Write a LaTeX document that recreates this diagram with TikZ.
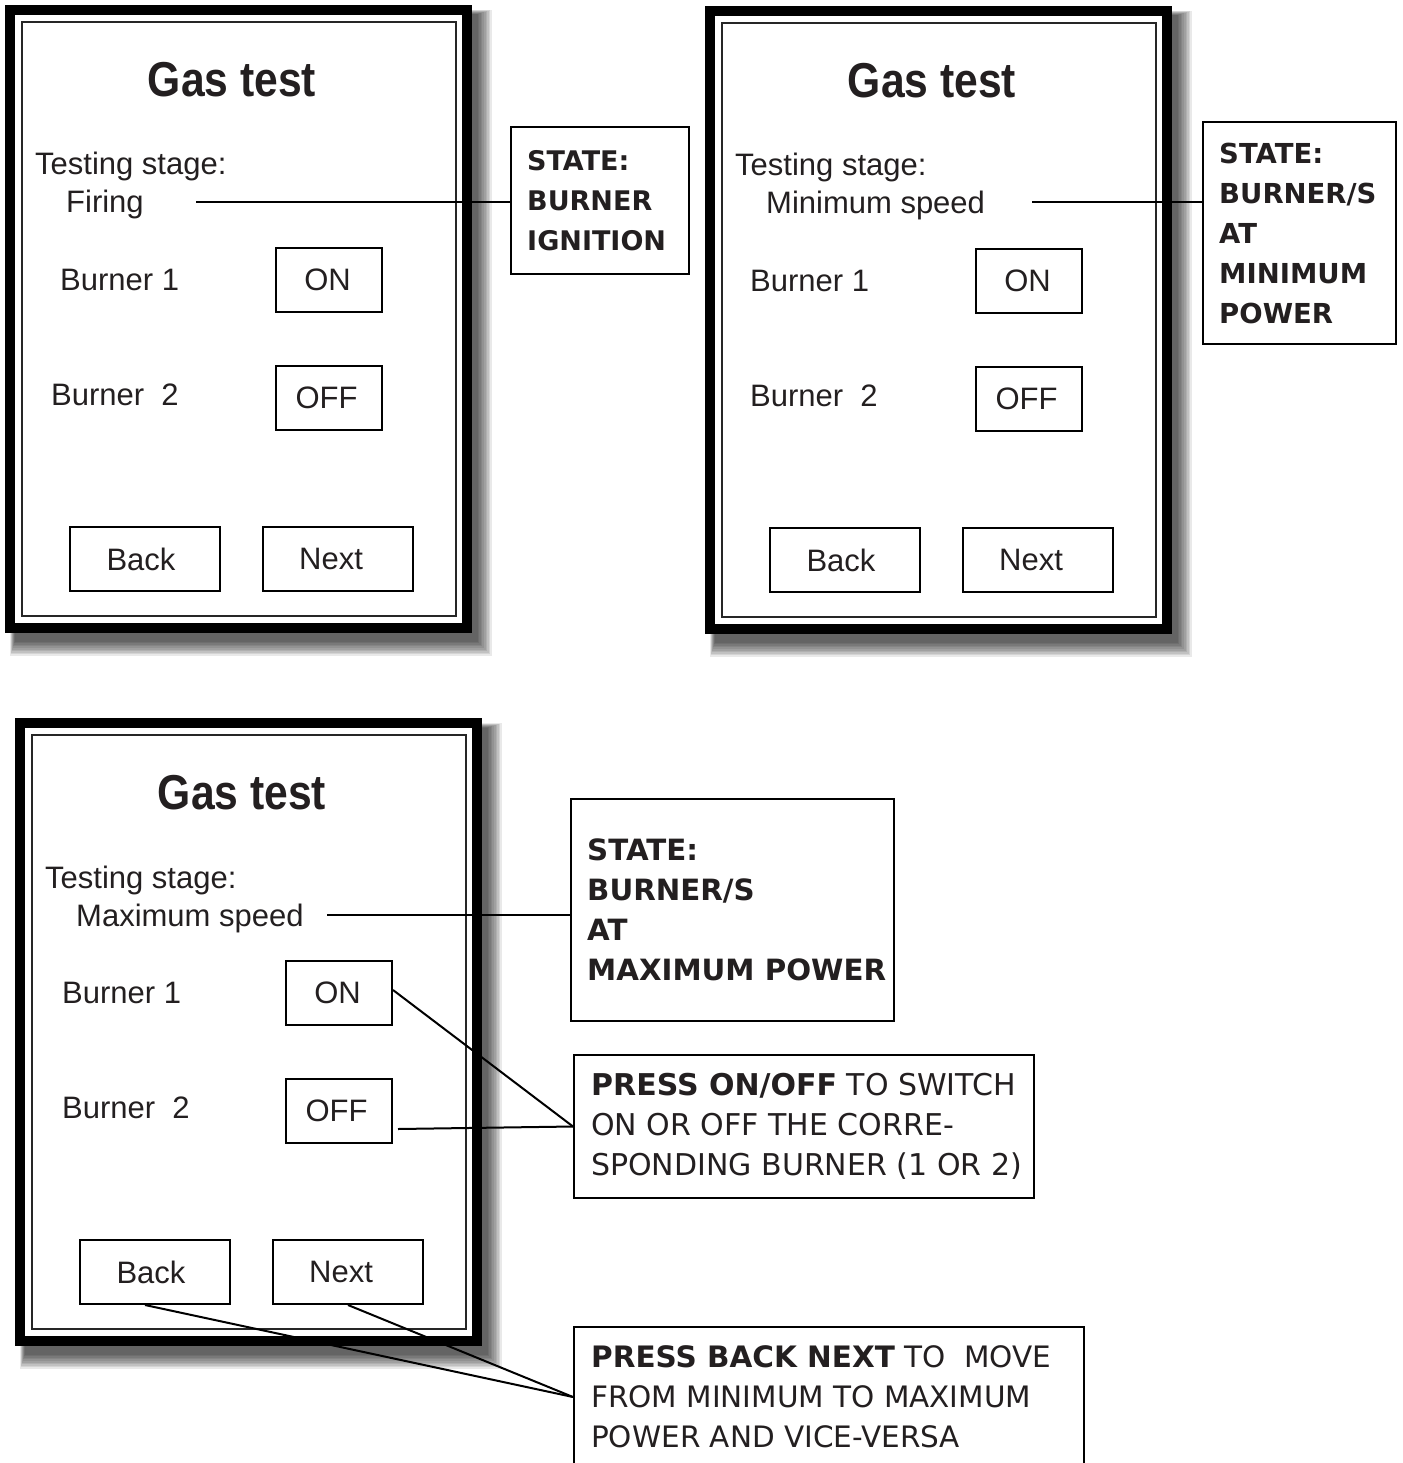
\documentclass[tikz,border=0pt]{standalone}
\usepackage{fontspec}
\usepackage{graphicx}
\setmainfont{Liberation Sans}
\newfontfamily\dvfont{DejaVu Sans}
\definecolor{ink}{HTML}{231F20}
\newcommand{\gasscreen}[6]{%
\begin{scope}[shift={(#2,#3)}]
  \foreach \k in {0,...,9}{\fill[black,opacity=0.085] (10+0.5*\k,10+0.5*\k) rectangle (492-1.6*\k,656-1.6*\k);}
  \draw[line width=10pt, draw=black, fill=white] (10,10) rectangle (467,628);
  \draw[line width=2pt, draw=black!85] (22,22) rectangle (456,616);
  \node[gtitle] (#1title) at (232,80) {\scalebox{0.87}[1]{Gas test}};
  \node[lbl] (#1stage) at (35,175) {Testing stage:};
  \node[lbl] (#1val) at (66,213) {#4};
  \node[lbl] (#1ba) at (#5,290) {Burner 1};
  \node[lbl] (#1bb) at (#6,405) {Burner\ \ 2};
  \node[btn] (#1on) at (329,280) {ON\kern3pt\null};
  \node[btn] (#1off) at (329,398) {OFF\kern5pt\null};
  \node[navbtn] (#1back) at (145,559) {Back\kern8pt\null};
  \node[navbtn] (#1next) at (338,559) {Next\kern14pt\null};
\end{scope}}
\begin{document}
\begin{tikzpicture}[x=1pt,y=-1pt,
  lbl/.style={font=\fontsize{31}{36}\selectfont, text=ink, inner sep=0pt, anchor=base west},
  btn/.style={draw=black, line width=2pt, minimum width=106pt, minimum height=64pt, inner sep=0pt, font=\fontsize{31}{36}\selectfont, text=ink},
  navbtn/.style={btn, minimum width=150pt},
  gtitle/.style={font=\fontsize{49}{56}\selectfont\bfseries, text=ink, inner sep=0pt},
  sbox/.style={draw=black, line width=2pt, inner sep=0pt, anchor=north west},
  stxt/.style={align=left, anchor=west, inner sep=0pt, text=ink},
  wire/.style={draw=black, line width=2pt}]
\fill[white] (0,0) rectangle (1402,1463);
\useasboundingbox (0,0) rectangle (1402,1463);

\gasscreen{a}{0}{0}{Firing}{60}{51}
\gasscreen{b}{700}{1}{Minimum speed}{50}{50}
\gasscreen{c}{10}{713}{Maximum speed}{52}{52}

% state boxes
\node[sbox, minimum width=178pt, minimum height=147pt] (box1) at (510,126) {};
\node[stxt, font=\fontsize{27}{40}\dvfont\bfseries] (t1) at ([xshift=17pt]box1.west) {STATE:\\BURNER\\IGNITION};

\node[sbox, minimum width=193pt, minimum height=222pt] (box2) at (1202,121) {};
\node[stxt, font=\fontsize{27.5}{40}\dvfont\bfseries] (t2) at ([xshift=17pt]box2.west) {STATE:\\BURNER/S\\AT\\MINIMUM\\POWER};

\node[sbox, minimum width=323pt, minimum height=222pt] (box3) at (570,798) {};
\node[stxt, font=\fontsize{29.3}{40}\dvfont\bfseries] (t3) at ([xshift=17pt]box3.west) {STATE:\\BURNER/S\\AT\\MAXIMUM POWER};

\node[sbox, minimum width=460pt, minimum height=143pt] (box4) at (573,1054) {};
\node[stxt, font=\fontsize{30}{40}\dvfont] (t4) at ([xshift=18pt]box4.west) {{\bfseries PRESS ON/OFF} TO SWITCH\\ON OR OFF THE CORRE-\\SPONDING BURNER (1 OR 2)};

\node[sbox, minimum width=510pt, minimum height=140pt] (box5) at (573,1326) {};
\node[stxt, font=\fontsize{29.5}{40}\dvfont] (t5) at ([xshift=18pt]box5.west) {{\bfseries PRESS BACK NEXT} TO\ \ MOVE\\FROM MINIMUM TO MAXIMUM\\POWER AND VICE-VERSA};

% connectors
\coordinate (s1) at (196,202);
\coordinate (s2) at (1032,202);
\coordinate (s3) at (327,915);
\coordinate (s4) at (398,1129);
\draw[wire] (s1) -- (s1 -| box1.west);
\draw[wire] (s2) -- (s2 -| box2.west);
\draw[wire] (s3) -- (s3 -| box3.west);
\draw[wire] ([yshift=3pt]con.east) -- (box4.west);
\draw[wire] (s4) -- (box4.west);
\draw[wire] ([xshift=-10pt]cback.south) -- (box5.west);
\draw[wire] (cnext.south) -- (box5.west);
\end{tikzpicture}
\end{document}
